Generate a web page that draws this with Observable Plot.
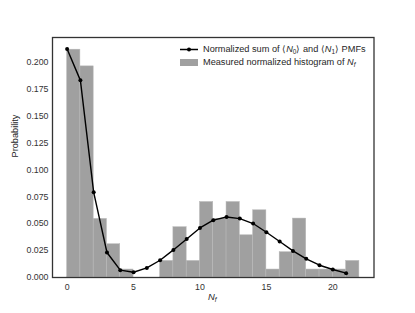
<!DOCTYPE html>
<html>
<head>
<meta charset="utf-8">
<script src="https://cdn.jsdelivr.net/npm/d3@7"></script>
<script src="https://cdn.jsdelivr.net/npm/@observablehq/plot@0.6"></script>
<style>
  html, body { margin: 0; padding: 0; background: #fff; }
  #wrap { position: relative; width: 415px; height: 313px; font-family: "Liberation Sans", Arial, sans-serif; color: #262626; }
  .leg { position: absolute; font-size: 9.2px; white-space: nowrap; line-height: 1; }
  .leg sub { font-size: 70%; vertical-align: -0.25em; line-height: 0; }
  #xlabel { position: absolute; font-size: 9.4px; font-style: italic; }
  #xlabel sub { font-size: 70%; vertical-align: -0.3em; line-height: 0; }
</style>
</head>
<body>
<div id="wrap"></div>
<script>
// Histogram bins (left edges, width 1) and measured normalized values
const binStarts = [0,1,2,3,4,5,6,7,8,9,10,11,12,13,14,15,16,17,18,19,20,21];
const histValues = [0.2115,0.196,0.0544,0.0309,0.0074,0,0,0.0154,0.0467,0.0154,0.0701,0.0545,0.0701,0.0392,0.0624,0.0074,0.0235,0.0547,0.0074,0.0074,0.0074,0.0154];
// Normalized sum of PMFs
const pmfN = [0,1,2,3,4,5,6,7,8,9,10,11,12,13,14,15,16,17,18,19,20,21];
const pmfValues = [0.2122,0.183,0.0791,0.0232,0.0068,0.0049,0.0089,0.016,0.0256,0.0358,0.046,0.0532,0.0562,0.0547,0.0501,0.042,0.0334,0.0247,0.0173,0.0114,0.0074,0.004];
const xTicks = [0,5,10,15,20];
const yTicks = [0,0.025,0.05,0.075,0.1,0.125,0.15,0.175,0.2];

const bars = binStarts.map((x, i) => ({x, p: histValues[i]}));
const pts = pmfN.map((n, i) => ({n, p: pmfValues[i]}));

const chart = Plot.plot({
  width: 415,
  height: 313,
  marginLeft: 52,
  marginRight: 41.5,
  marginTop: 37,
  marginBottom: 36,
  style: {fontFamily: "Liberation Sans, Arial, sans-serif", fontSize: "8.8px", color: "#333", background: "#fff"},
  x: {domain: [-1.1, 23.1], ticks: xTicks, tickSize: 0, tickPadding: 6, label: null, tickFormat: d3.format("d")},
  y: {domain: [0, 0.2228], ticks: yTicks, tickSize: 0, tickPadding: 4, label: null, tickFormat: d3.format(".3f")},
  marks: [
    Plot.rectY(bars, {filter: d => d.p > 0, x1: d => d.x, x2: d => d.x + 1, y: "p", fill: "#a0a0a0", stroke: "#b9b9b9", strokeWidth: 0.5}),
    Plot.line(pts, {x: "n", y: "p", stroke: "#000", strokeWidth: 1.4}),
    Plot.dot(pts, {x: "n", y: "p", r: 2, fill: "#000", stroke: "none"}),
    Plot.frame({stroke: "#333", strokeWidth: 1.3}),
    Plot.text(["Probability"], {frameAnchor: "left", rotate: -90, dx: -37, fontSize: 9.2, fill: "#262626"})
  ]
});

const wrap = document.getElementById("wrap");
wrap.appendChild(chart);

// Legend
const legend = document.createElement("div");
legend.innerHTML = `
  <svg style="position:absolute;left:179px;top:44px" width="22" height="24">
    <line x1="1" y1="5.5" x2="19" y2="5.5" stroke="#000" stroke-width="1.5"/>
    <circle cx="10" cy="5.5" r="2" fill="#000"/>
    <rect x="1" y="15" width="18" height="7" fill="#a0a0a0"/>
  </svg>
  <div class="leg" style="left:203px;top:45px">Normalized sum of ⟨<i>N</i><sub>0</sub>⟩ and ⟨<i>N</i><sub>1</sub>⟩ PMFs</div>
  <div class="leg" style="left:203px;top:57.5px">Measured normalized histogram of <i>N</i><sub><i>f</i></sub></div>
`;
wrap.appendChild(legend);

const xl = document.createElement("div");
xl.id = "xlabel";
xl.style.left = "208px";
xl.style.top = "291px";
xl.innerHTML = "N<sub>f</sub>";
wrap.appendChild(xl);
</script>
</body>
</html>
